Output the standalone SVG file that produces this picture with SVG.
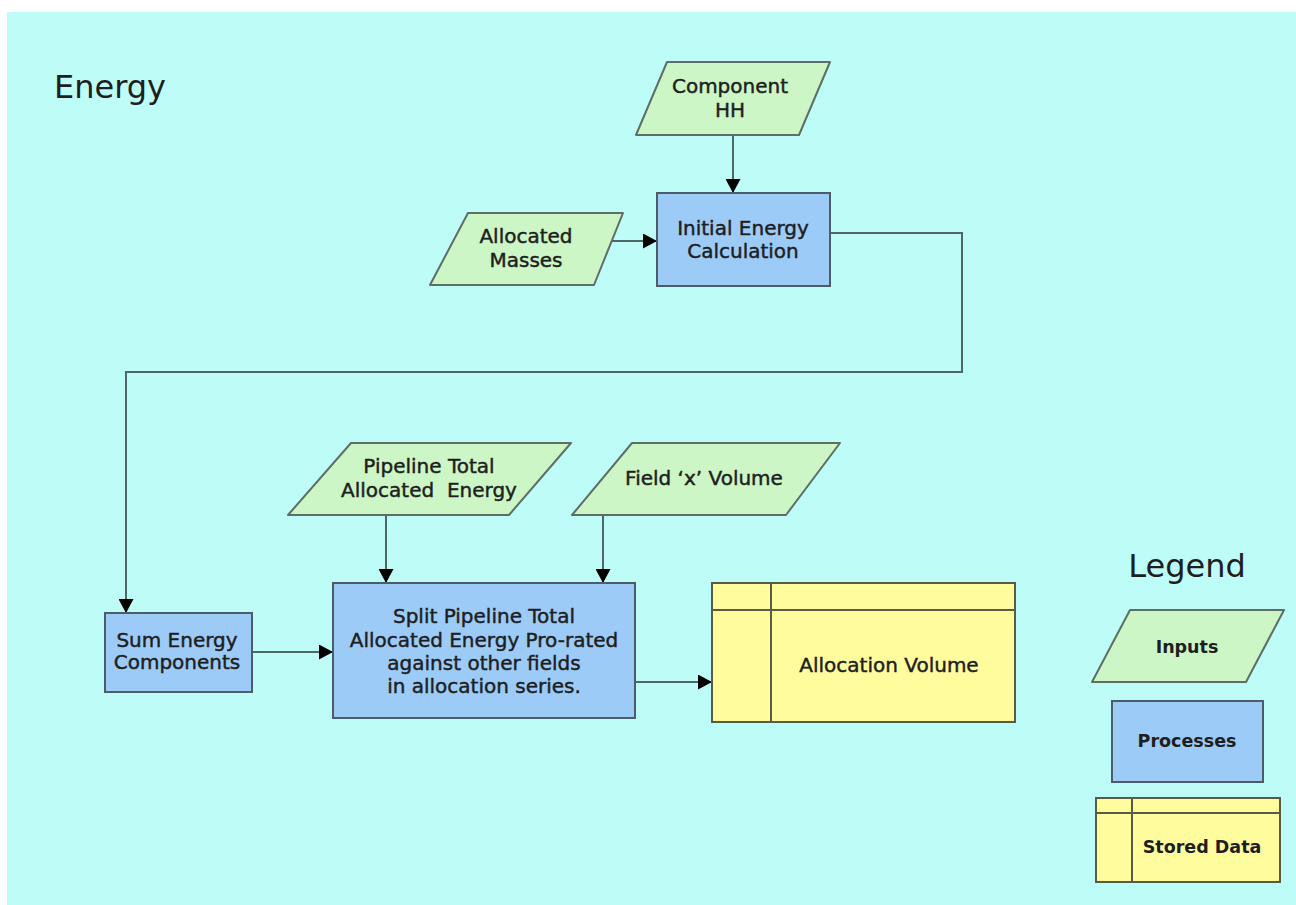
<svg xmlns="http://www.w3.org/2000/svg" width="1296" height="905" viewBox="0 0 1296 905">
  <defs>
    <style>
      .input { fill: #CCF6C6; stroke: #5E6E66; stroke-width: 2; stroke-linejoin: round; }
      .process { fill: #9DCBF8; stroke: #4C5C68; stroke-width: 2; }
      .store { fill: #FFFC9E; stroke: #5A5A48; stroke-width: 2; }
      .store-line { fill: none; stroke: #5A5A48; stroke-width: 2; }
      .conn { fill: none; stroke: #4F6666; stroke-width: 2; marker-end: url(#arrow); }
      text { font-family: "DejaVu Sans", "Liberation Sans", sans-serif; fill: #1E1E1E; text-anchor: middle; }
      .lbl { font-size: 20px; stroke: #1E1E1E; stroke-width: 0.45; }
      .title { font-size: 32px; text-anchor: start; }
      .legend-title { font-size: 32px; }
      .legend-lbl { font-size: 17.5px; font-weight: bold; }
    </style>
    <marker id="arrow" markerUnits="userSpaceOnUse" viewBox="0 0 14 15" refX="14" refY="7.5" markerWidth="14" markerHeight="15" orient="auto">
      <path d="M0,0 L14,7.5 L0,15 Z" fill="#000"/>
    </marker>
  </defs>

  <!-- page background -->
  <rect x="7" y="12" width="1289" height="893" fill="#BEFCF7"/>

  <text class="title" x="54" y="98">Energy</text>

  <!-- connectors -->
  <g id="connectors">
    <path class="conn" d="M733,135 L733,193"/>
    <path class="conn" d="M612,241 L657,241"/>
    <path class="conn" d="M830,233 L962,233 L962,372 L126,372 L126,613"/>
    <path class="conn" d="M386,515 L386,583"/>
    <path class="conn" d="M603,515 L603,583"/>
    <path class="conn" d="M252,652 L333,652"/>
    <path class="conn" d="M635,682 L712,682"/>
  </g>

  <g id="component-hh">
    <polygon class="input" points="667,62 830,62 799,135 636,135"/>
    <text class="lbl" x="730" y="93">Component</text>
    <text class="lbl" x="730" y="117">HH</text>
  </g>

  <g id="allocated-masses">
    <polygon class="input" points="468,213 623,213 594,285 430,285"/>
    <text class="lbl" x="526" y="243">Allocated</text>
    <text class="lbl" x="526" y="267">Masses</text>
  </g>

  <g id="initial-energy">
    <rect class="process" x="657" y="193" width="173" height="93"/>
    <text class="lbl" x="743" y="235">Initial Energy</text>
    <text class="lbl" x="743" y="258">Calculation</text>
  </g>

  <g id="pipeline-total">
    <polygon class="input" points="351,443 571,443 509,515 288,515"/>
    <text class="lbl" x="429" y="473">Pipeline Total</text>
    <text class="lbl" x="429" y="497" xml:space="preserve">Allocated  Energy</text>
  </g>

  <g id="field-x-volume">
    <polygon class="input" points="632,443 840,443 786,515 572,515"/>
    <text class="lbl" x="704" y="485">Field ‘x’ Volume</text>
  </g>

  <g id="sum-energy">
    <rect class="process" x="105" y="613" width="147" height="79"/>
    <text class="lbl" x="177" y="647">Sum Energy</text>
    <text class="lbl" x="177" y="669">Components</text>
  </g>

  <g id="split-pipeline">
    <rect class="process" x="333" y="583" width="302" height="135"/>
    <text class="lbl" x="484" y="623">Split Pipeline Total</text>
    <text class="lbl" x="484" y="647">Allocated Energy Pro-rated</text>
    <text class="lbl" x="484" y="670">against other fields</text>
    <text class="lbl" x="484" y="693">in allocation series.</text>
  </g>

  <g id="allocation-volume">
    <rect class="store" x="712" y="583" width="303" height="139"/>
    <path class="store-line" d="M712,610 L1015,610 M771,583 L771,722"/>
    <text class="lbl" x="889" y="672">Allocation Volume</text>
  </g>

  <!-- legend -->
  <g id="legend">
    <text class="legend-title" x="1187" y="577">Legend</text>
    <g id="legend-inputs">
      <polygon class="input" points="1130,610 1284,610 1246,682 1092,682"/>
      <text class="legend-lbl" x="1187" y="653">Inputs</text>
    </g>
    <g id="legend-processes">
      <rect class="process" x="1112" y="701" width="151" height="81"/>
      <text class="legend-lbl" x="1187" y="747">Processes</text>
    </g>
    <g id="legend-stored">
      <rect class="store" x="1096" y="798" width="184" height="84"/>
      <path class="store-line" d="M1096,813 L1280,813 M1132,798 L1132,882"/>
      <text class="legend-lbl" x="1202" y="853">Stored Data</text>
    </g>
  </g>
</svg>
